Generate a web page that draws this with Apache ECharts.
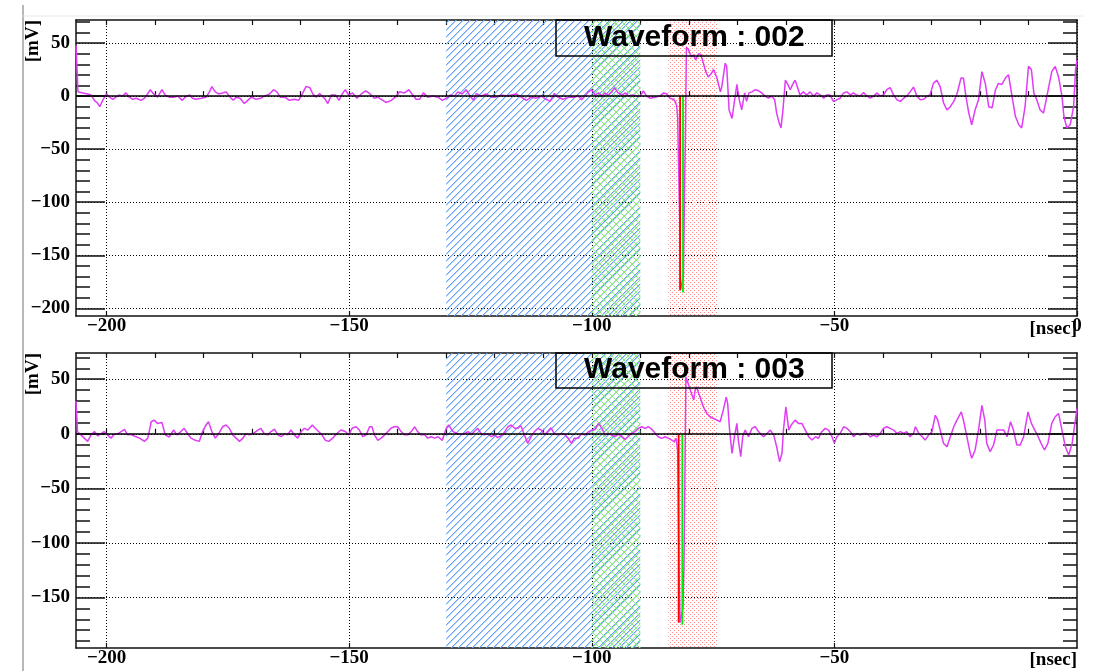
<!DOCTYPE html>
<html>
<head>
<meta charset="utf-8">
<title>Waveform</title>
<script src="https://cdn.jsdelivr.net/npm/echarts@6/dist/echarts.min.js"></script>
<style>
  html, body { margin: 0; padding: 0; background: #fff; }
  #main { width: 1102px; height: 671px; }
</style>
</head>
<body>
<div id="main"></div>
<script>
// time axis [nsec] and the two voltage ranges [mV]
var xRange = [-206.3, 0]
var yRange002 = [-207.2, 71.7]
var yRange003 = [-196.3, 74]

var xLabels002 = [-200, -150, -100, -50, 0]
var xLabels003 = [-200, -150, -100, -50]
var xMinorTicks = [-200, -190, -180, -170, -160, -150, -140, -130, -120, -110, -100, -90, -80, -70, -60, -50, -40, -30, -20, -10]
var yLabels = [-200, -150, -100, -50, 0, 50]
var yMinorTicks = [-200, -190, -180, -170, -160, -150, -140, -130, -120, -110, -100, -90, -80, -70, -60, -50, -40, -30, -20, -10, 0, 10, 20, 30, 40, 50, 60, 70]

// shaded windows
var blueBand = [-130, -90]
var greenBand = [-100, -90]
var redBand = [-84.2, -74]

// vertical markers [time, minimum]
var redLine002 = [-81.8, -183]
var greenLine002 = [-81.2, -185]
var redLine003 = [-82.1, -173]
var greenLine003 = [-81.35, -175]

// waveform 002  [t, mV]
var wave002 = [
  [-206.3,48],[-206.1,27],[-205.9,4],[-204.9,3],[-203.9,2],[-203.2,1],[-202.5,-4],[-201.8,-7],[-201.4,-10],[-200.8,-4],
  [-200.0,2],[-199.4,-1],[-198.7,-3],[-198.1,-1],[-197.4,1],[-196.7,0],[-196.0,3],[-195.3,-1],[-194.6,-3],[-193.9,-2],
  [-192.9,-4],[-192.2,-2],[-191.7,1],[-191.0,6],[-190.4,2.5],[-189.5,-1],[-188.6,6],[-187.9,1],[-187.1,-1],[-186.0,-1],
  [-185.3,0],[-184.4,-4],[-183.8,-1],[-182.9,1],[-182.3,-2],[-181.6,-3],[-180.5,-2],[-179.5,-1],[-178.8,4],[-178.3,9],
  [-177.6,4],[-176.9,2],[-176.1,3],[-175.4,4],[-174.5,-1],[-173.9,-4],[-173.3,-1],[-172.5,-2],[-171.6,-7],[-170.9,-4],
  [-170.2,-1],[-169.2,-3],[-168.2,-2],[-167.5,0],[-166.4,2],[-165.6,6],[-164.9,4],[-164.2,-1],[-163.3,-1],[-162.3,-4],
  [-161.3,-3],[-160.4,-4],[-159.6,2.5],[-158.9,9],[-158.1,8],[-157.5,2],[-156.8,-1],[-156.1,2.5],[-155.1,-2],[-154.4,-7],
  [-153.7,1],[-152.8,1],[-152.1,-4],[-151.3,3],[-150.8,6],[-150.1,1],[-149.3,3],[-148.4,-2],[-147.5,2],[-146.6,5],
  [-145.8,2.5],[-144.8,-2],[-144.1,-1],[-143.4,-3],[-142.4,-6],[-141.3,-4],[-140.5,-1],[-139.6,4],[-138.6,3],[-137.7,6],
  [-136.9,1],[-136.2,-3],[-135.5,-3],[-134.7,3],[-133.8,-1],[-132.8,0],[-131.7,-1],[-130.8,-4],[-130.0,-2],[-129.2,1],
  [-128.3,0],[-127.6,4],[-126.7,2],[-125.9,6],[-125.2,1],[-124.4,-4],[-123.8,2.5],[-122.8,0],[-121.8,2],[-120.7,-1],
  [-119.8,-1],[-118.7,1],[-117.6,0],[-116.6,1],[-115.6,2],[-114.5,-1],[-113.5,-4],[-112.5,-1],[-111.5,-2],[-110.4,0],
  [-109.4,-3],[-108.6,-5],[-107.7,2.5],[-107.0,-1],[-106.0,-3],[-104.6,-1],[-103.5,-1],
  [-102.8,0],[-102.1,-3.5],[-101.4,0],[-100.7,4],[-100.0,6],[-99.3,1],[-98.6,3],[-97.9,0],[-97.3,3],[-96.6,1],
  [-95.9,4],[-95.3,8],[-94.6,3],[-93.8,1],[-93.1,3],[-92.4,0],[-91.6,1],[-90.7,0],[-90.0,0],[-89.4,5],
  [-88.7,0],[-88.0,-2],[-87.0,-1],[-85.9,0],[-85.2,3],[-84.5,2],[-83.9,-2],[-83.2,-3],[-82.8,-5],
  [-82.5,-9],[-82.3,-20],[-82.1,-69],[-81.9,-112],[-81.7,-183],[-81.4,-184],[-81.1,-169],[-80.9,-94],[-80.7,-38],[-80.5,46],
  [-80.1,44],[-79.5,37],[-79.0,39],[-78.6,34],[-78.0,40],[-77.5,39],[-77.0,31],[-76.5,23],[-76.0,18],[-75.4,21],
  [-74.9,25],[-74.2,17],[-73.5,4],[-73.2,9],[-72.5,31],[-72.2,28],[-71.7,-13],[-71.1,-21],[-70.6,-5],[-70.1,11],
  [-69.6,-3.5],[-69.1,-13],[-68.5,3],[-68.1,-5],[-67.6,3],[-67.0,4],[-66.3,6],[-65.6,5],[-65.0,3],[-64.3,0],
  [-63.6,-2],[-62.9,0],[-62.3,-3.5],[-61.9,-16],[-61.4,-25],[-61.0,-30],[-60.6,-13],[-60.1,15],[-59.6,11],[-59.1,6],
  [-58.6,11],[-58.1,15],[-57.5,7],[-57.1,1],[-56.4,4],[-55.7,1],[-55.0,4],[-54.3,0],[-53.6,3],[-52.9,1],
  [-52.2,-2],[-51.6,1],[-50.9,1],[-50.2,-5],[-49.5,-3.5],[-48.8,-2],[-48.1,3],[-47.4,4],[-46.7,1],[-46.1,3],
  [-45.4,1],[-44.7,0],[-44.0,3.5],[-43.3,0],[-42.6,-2],[-41.9,0],[-41.2,3],[-40.6,0],[-39.9,1],[-39.2,6],
  [-38.5,8],[-37.8,1],[-37.1,-3.5],[-36.4,-5],[-35.7,-2],[-35.1,0],[-34.4,4],[-33.7,8.5],[-33.0,0],[-32.3,-3.5],
  [-31.6,-3],[-30.9,0],[-30.3,1],[-29.6,12],[-28.9,15],[-28.2,9],[-27.5,-6.5],[-26.8,-13],[-26.1,-10],[-25.4,-5],
  [-24.8,1],[-23.9,17],[-23.4,17],[-22.9,0],[-22.3,-16],[-21.7,-27],[-21.0,-13],[-20.3,-3.5],[-19.6,23],[-18.9,12],
  [-18.2,-10],[-17.5,-11],[-16.8,6],[-16.2,12],[-15.5,11],[-14.6,18],[-14.1,20],[-13.4,0],[-12.7,-19],[-12.0,-27],
  [-11.4,-30],[-10.7,-10],[-10.0,28],[-9.4,25],[-8.9,3],[-8.3,-3.5],[-7.6,-13],[-6.9,-16],[-6.2,0],[-5.2,23],
  [-4.5,28],[-3.8,18],[-3.1,0],[-2.7,-19],[-2.1,-30],[-1.4,-27],[-0.7,-10],[-0.3,25],[0,34]
]

// waveform 003  [t, mV]
var wave003 = [
  [-206.3,30],[-206.1,12],[-206.0,2],[-205.3,-1],[-204.6,-4],[-203.9,-7],[-203.2,-1],[-202.5,2],[-201.8,-2],[-201.2,0],
  [-200.5,2],[-199.8,-1],[-199.1,-4],[-198.4,-0.6],[-197.7,0],[-197.0,2],[-196.3,4],[-195.7,-1],[-195.0,-0.6],[-194.3,-2],
  [-193.2,-4],[-192.2,-7],[-191.5,-4],[-190.8,11],[-190.2,12.5],[-189.5,9.5],[-188.6,10.4],[-187.9,-1],[-187.1,-3],[-186.2,3.4],
  [-185.5,-1],[-184.7,2],[-184.0,5],[-183.3,0],[-182.6,-4],[-181.7,-6],[-180.9,-7],[-180.2,2],[-179.5,8],[-179.0,11],
  [-178.3,2],[-177.6,-4],[-176.9,0],[-176.1,6.4],[-175.4,8],[-174.7,5],[-174.0,-1],[-173.3,-4],[-172.6,-7],[-171.9,-4],
  [-171.3,0],[-170.6,-1],[-169.9,0],[-168.8,3.4],[-168.2,5],[-167.5,0],[-166.8,-1],[-166.1,2],[-165.4,4.3],[-164.7,-1],
  [-164.0,-2.7],[-163.3,0],[-162.7,-1],[-162.0,3.4],[-161.3,-1],[-160.6,-4],[-159.9,2],[-159.2,5],[-158.5,3.4],[-157.6,8],
  [-157.0,5],[-156.3,2],[-155.6,-1],[-154.9,-6],[-154.2,-7],[-153.4,-4],[-152.6,0],[-151.7,3.4],[-150.8,2],[-150.1,-1],
  [-149.4,5],[-148.6,6.4],[-147.9,3.4],[-147.2,-2.7],[-146.5,-1],[-145.8,6.4],[-145.3,6.4],[-144.8,-1],[-144.1,-6],[-143.4,-4],
  [-142.7,-1],[-142.0,2],[-141.4,5],[-140.7,6.4],[-140.0,6.4],[-139.3,2],[-138.6,-1],[-137.9,-1],[-137.2,2],[-136.5,6.4],
  [-135.9,2],[-135.2,-1],[-134.5,-0.6],[-133.8,-4],[-133.1,-2.7],[-132.4,-4],[-131.7,-2.7],[-130.8,-6],[-130.0,5],[-129.5,8],
  [-128.6,2],[-127.6,0],[-126.6,-0.6],[-125.5,2],[-124.9,-1],[-124.2,2],[-123.5,5],[-122.8,0],[-122.1,-1],[-121.4,0],
  [-120.7,-2.7],[-120.0,-1],[-119.4,-3.6],[-118.3,-0.6],[-117.3,6.4],[-116.6,8],[-115.9,5],[-115.2,5],[-114.6,7.3],[-113.9,-1],
  [-113.2,-8.8],[-112.5,-2.7],[-111.8,2],[-111.1,5],[-110.4,3.4],[-109.7,-1],[-109.1,2],[-108.4,5.5],[-107.7,0],[-107.0,-1],
  [-106.3,0],[-105.6,-0.6],[-104.9,-4],[-104.2,-8.8],[-103.6,-4],
  [-102.8,-4.2],[-102.1,0.3],[-101.4,-1.2],[-100.7,1.9],[-100.0,3.4],[-99.3,4],[-98.6,9.5],[-97.9,4.9],[-97.3,-1.2],[-96.6,0.3],
  [-95.9,-1.2],[-95.2,-2.7],[-94.5,-0.3],[-93.8,-2.7],[-93.1,-5.2],[-92.4,-2.1],[-91.8,0.3],[-91.1,1.9],[-90.4,4.9],[-89.7,6.4],
  [-89.0,4.9],[-88.3,6.4],[-87.6,4],[-86.9,0.3],[-86.3,-2.7],[-85.6,-4.2],[-84.9,-2.7],[-84.2,-4.2],[-83.5,-5.8],[-83.0,-7.3],
  [-82.6,-4.2],[-82.45,-10],[-82.3,-16],[-82.15,-76],[-82.0,-130],[-81.8,-173],[-81.5,-174],[-81.2,-160],[-81.0,-121],[-80.8,-39],
  [-80.6,52],[-80.2,47],[-79.7,40],[-79.0,31],[-78.7,40],[-78.4,43],[-78.0,37],[-77.7,34],[-77.0,24.7],[-76.3,18.6],
  [-75.6,15.6],[-74.9,14],[-74.2,12.5],[-73.55,11],[-72.9,21.7],[-72.3,33.5],[-72.0,27.8],[-71.6,3.4],[-71.1,-18],[-70.6,-2.7],
  [-70.1,9.5],[-69.8,-5.8],[-69.3,-21],[-68.9,-2.7],[-68.4,3.4],[-67.7,-2.7],[-67.0,4.9],[-66.3,6.4],[-65.6,1.8],[-64.6,-2.7],
  [-63.9,0.3],[-63.2,3.4],[-62.5,-1.2],[-61.9,-11.9],[-61.3,-25.6],[-60.8,-17.9],[-60.5,3.4],[-60.0,24.7],[-59.4,3.4],[-58.9,8],
  [-58.1,12.5],[-57.4,9.5],[-56.7,9.5],[-56.0,3.4],[-55.3,-2.7],[-54.6,-5.8],[-53.9,-2.7],[-53.3,-4.2],[-52.6,1.9],[-51.9,4.9],
  [-51.2,3.4],[-50.5,-2.7],[-50.0,-8.8],[-49.5,-2.7],[-48.8,0.3],[-48.1,6.4],[-47.4,4.9],[-46.7,1.9],[-46.05,-2.7],[-45.4,0.3],
  [-44.7,-1.2],[-44.0,0.3],[-43.3,0.3],[-42.6,-2.7],[-41.9,-1.2],[-41.2,-2.7],[-40.55,0.3],[-39.9,4.9],[-39.2,6.4],[-38.5,4.9],
  [-37.8,3.4],[-37.1,0.3],[-36.4,1.9],[-35.7,0.3],[-35.1,1.9],[-34.4,-2.7],[-33.7,0.3],[-33.3,6.4],[-32.6,0.3],[-31.9,-2.7],
  [-31.3,-5.8],[-30.6,-1.2],[-29.9,1.9],[-29.2,17],[-28.7,12.5],[-28.2,3.4],[-27.5,-8.8],[-26.8,-11.9],[-26.1,-2.7],[-25.4,6.4],
  [-24.75,12.5],[-23.85,20],[-23.4,12.5],[-22.7,-2.7],[-22.0,-17.9],[-21.7,-22.5],[-21.0,-14.9],[-20.3,3.4],[-19.6,26],[-19.0,12.5],
  [-18.6,-8.8],[-17.9,-16.4],[-17.2,-10.3],[-16.5,3.4],[-15.8,3.4],[-15.1,3.4],[-14.4,-2.7],[-13.7,11],[-13.1,3.4],[-12.4,-10.3],
  [-11.7,-10.3],[-11.0,-2.7],[-10.1,20],[-9.4,9.5],[-8.7,3.4],[-8.0,-2.7],[-7.4,-8.8],[-6.7,-14.9],[-6.0,-8.8],[-5.2,9.5],
  [-4.5,15.6],[-3.8,18.6],[-3.1,3.4],[-2.4,-11.9],[-1.7,-19.5],[-1.0,-8.8],[-0.35,12.5],[0,23]
]

var FRAME = '#111'
var WAVE = '#e03cf6'
var serif = 'Liberation Serif'

// pixel tiles for the ROOT-like fill styles: pixel() returns an alpha (0 = empty)
function pattern(size, rgb, pixel) {
  var c = document.createElement('canvas')
  c.width = size
  c.height = size
  var ctx = c.getContext('2d')
  for (var i = 0; i < size; i++) {
    for (var j = 0; j < size; j++) {
      var a = pixel(i, j, size)
      if (a) {
        ctx.fillStyle = 'rgba(' + rgb + ',' + a + ')'
        ctx.fillRect(i, j, 1, 1)
      }
    }
  }
  return { image: c, repeat: 'repeat' }
}

var fills = [
  pattern(7, '100,160,247', function (i, j, s) {
    var d = (i + j) % s
    return d === s - 1 ? 1 : (d === 0 ? 0.45 : 0)
  }),
  pattern(8, '130,236,130', function (i, j, s) {
    return (i + j === s - 1 || i === j) ? 1 : 0
  }),
  pattern(4, '255,135,135', function (i, j) {
    return ((i === 0 && j === 0) || (i === 2 && j === 2)) ? 1 : 0
  })
]
// [from, to, fill index]
var bands = [
  [blueBand[0], blueBand[1], 0],
  [greenBand[0], greenBand[1], 1],
  [redBand[0], redBand[1], 2]
]

function minus(v) {
  return String(v).replace('-', '\u2212')
}

function xAxes(g, labels) {
  return [
    {
      type: 'value', gridIndex: g, min: xRange[0], max: xRange[1], position: 'bottom',
      axisLine: { show: true, onZero: false, lineStyle: { color: FRAME, width: 1.5 } },
      axisTick: { show: true, inside: true, length: 5, customValues: labels, lineStyle: { color: FRAME, width: 1.2 } },
      axisLabel: {
        customValues: labels, margin: 1, color: '#000', fontFamily: serif, fontWeight: 'bold', fontSize: 19,
        formatter: minus
      },
      splitLine: { show: true, lineStyle: { color: '#000', width: 1, type: [1, 2] } }
    },
    {
      type: 'value', gridIndex: g, min: xRange[0], max: xRange[1], position: 'bottom',
      axisLine: { show: false },
      axisTick: { show: true, inside: true, length: 5, customValues: xMinorTicks, lineStyle: { color: FRAME, width: 1.2 } },
      axisLabel: { show: false }, splitLine: { show: false }
    },
    {
      type: 'value', gridIndex: g, min: xRange[0], max: xRange[1], position: 'top',
      axisLine: { show: true, onZero: false, lineStyle: { color: FRAME, width: 1.5 } },
      axisTick: { show: true, inside: true, length: 5, customValues: xMinorTicks, lineStyle: { color: FRAME, width: 1.2 } },
      axisLabel: { show: false }, splitLine: { show: false }
    }
  ]
}

function yAxes(g, range) {
  var base = { type: 'value', gridIndex: g, min: range[0], max: range[1] }
  function tickAxis(pos, len, vals, line) {
    return Object.assign({}, base, {
      position: pos,
      axisLine: { show: line, onZero: false, lineStyle: { color: FRAME, width: 1.5 } },
      axisTick: { show: true, inside: true, length: len, customValues: vals, lineStyle: { color: FRAME, width: 1.5 } },
      axisLabel: { show: false }, splitLine: { show: false }
    })
  }
  return [
    Object.assign({}, base, {
      position: 'left',
      axisLine: { show: true, onZero: false, lineStyle: { color: FRAME, width: 1.5 } },
      axisTick: { show: true, inside: true, length: 29, customValues: yLabels, lineStyle: { color: FRAME, width: 1.5 } },
      axisLabel: {
        customValues: yLabels, margin: 6, color: '#000', fontFamily: serif, fontWeight: 'bold', fontSize: 19,
        formatter: minus
      },
      splitLine: { show: true, lineStyle: { color: '#000', width: 1, type: [1, 2] } }
    }),
    tickAxis('left', 14, yMinorTicks, false),
    tickAxis('right', 29, yLabels, true),
    tickAxis('right', 14, yMinorTicks, false)
  ]
}

function panelSeries(g, range, wave, redLine, greenLine) {
  var xi = g * 3, yi = g * 4
  return [
    {
      type: 'custom', xAxisIndex: xi, yAxisIndex: yi, z: 1, silent: true,
      data: bands,
      encode: { x: [0, 1] },
      renderItem: function (params, api) {
        var a = api.coord([api.value(0), range[1]])
        var b = api.coord([api.value(1), range[0]])
        return {
          type: 'rect',
          shape: { x: a[0], y: a[1], width: b[0] - a[0], height: b[1] - a[1] },
          style: { fill: fills[api.value(2)] }
        }
      }
    },
    {
      type: 'line', xAxisIndex: xi, yAxisIndex: yi, data: wave, z: 3,
      showSymbol: false, lineStyle: { color: WAVE, width: 1.5 },
      markLine: {
        silent: true, symbol: 'none', label: { show: false },
        lineStyle: { color: '#000', width: 1.5, type: 'solid' },
        data: [{ yAxis: 0 }]
      }
    },
    {
      type: 'line', xAxisIndex: xi, yAxisIndex: yi, z: 4, showSymbol: false,
      data: [[redLine[0], 0], [redLine[0], redLine[1]]],
      lineStyle: { color: '#ff0000', width: 1.8 }
    },
    {
      type: 'line', xAxisIndex: xi, yAxisIndex: yi, z: 4, showSymbol: false,
      data: [[greenLine[0], 0], [greenLine[0], greenLine[1]]],
      lineStyle: { color: '#00ee00', width: 1.8 }
    }
  ]
}

var chart = echarts.init(document.getElementById('main'), null, { renderer: 'canvas' })

var titleStyle = { fontFamily: 'Liberation Sans', fontWeight: 'bold', fontSize: 30, color: '#000', lineHeight: 30 }
var unitStyle = { fill: '#000', font: 'bold 19px "Liberation Serif"' }

chart.setOption({
  animation: false,
  backgroundColor: '#fff',
  title: [
    { text: 'Waveform : 002', left: 556, top: 20, padding: [3, 28, 3, 28], borderColor: '#000', borderWidth: 1.5, textStyle: titleStyle, z: 10 },
    { text: 'Waveform : 003', left: 556, top: 353, padding: [2, 28, 3, 28], borderColor: '#000', borderWidth: 1.5, textStyle: titleStyle, z: 10 }
  ],
  grid: [
    { left: 76, top: 20, width: 1001, height: 296, outerBoundsMode: 'none' },
    { left: 76, top: 353, width: 1001, height: 295, outerBoundsMode: 'none' }
  ],
  xAxis: xAxes(0, xLabels002).concat(xAxes(1, xLabels003)),
  yAxis: yAxes(0, yRange002).concat(yAxes(1, yRange003)),
  series: panelSeries(0, yRange002, wave002, redLine002, greenLine002)
    .concat(panelSeries(1, yRange003, wave003, redLine003, greenLine003)),
  graphic: [
    { type: 'line', silent: true, shape: { x1: 23, y1: 5, x2: 23, y2: 671 }, style: { stroke: '#a0a0a0', lineWidth: 1.5 } },
    { type: 'line', silent: true, shape: { x1: 23, y1: 16, x2: 1083, y2: 16 }, style: { stroke: '#e8e8e8', lineWidth: 1 } },
    { type: 'text', silent: true, x: 33, y: 20, rotation: Math.PI / 2, style: Object.assign({ text: '[mV]', align: 'right', verticalAlign: 'middle' }, unitStyle) },
    { type: 'text', silent: true, x: 33, y: 353, rotation: Math.PI / 2, style: Object.assign({ text: '[mV]', align: 'right', verticalAlign: 'middle' }, unitStyle) },
    { type: 'text', silent: true, x: 1077, y: 320, style: Object.assign({ text: '[nsec]', align: 'right', verticalAlign: 'top' }, unitStyle) },
    { type: 'text', silent: true, x: 1077, y: 651, style: Object.assign({ text: '[nsec]', align: 'right', verticalAlign: 'top' }, unitStyle) }
  ]
})
</script>
</body>
</html>
